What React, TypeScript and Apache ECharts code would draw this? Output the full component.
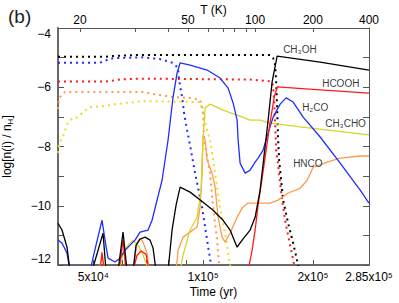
import React, { useEffect, useRef } from 'react';
import * as echarts from 'echarts';

const FONT = '"Liberation Sans", Arial, Helvetica, sans-serif';

// bottom axis (time, yr)
const timeTicks = [50000, 60000, 70000, 80000, 90000, 100000, 200000];
const timeLabelValues = [50000, 100000, 200000, 284990];
const timeLabelText = ['5x10⁴', '1x10⁵', '2x10⁵', '2.85x10⁵'];

// top axis (temperature) : times at which T reaches the tick temperatures
const tempTickTimes = [45960, 65000, 80100, 90900, 103100, 113400, 121500, 131100, 138800, 200000, 284990];
const tempLabelTimes = [45960, 90900, 138800, 200000, 284990];
const tempLabelText = ['20', '50', '100', '200', '400'];

// [time (yr), log n(i)/nH]
const ch3ohIce = [[40000,-4.97],[53830,-4.97],[57340,-4.94],[67150,-4.91],[152660,-4.91],[155580,-5.01],[157560,-5.25],[158560,-5.76],[159560,-6.67],[160575,-7.78],[161590,-8.46],[165729,-9.81],[171049,-10.59],[176537,-11.26],[182203,-12.0],[183000,-12.2]];
const ch3ohGas = [[40000,-10.59],[41024,-10.82],[42342,-11.4],[43150,-12.2],[49586,-12.2],[53155,-10.93],[54170,-12.2],[58437,-12.2],[60312,-10.89],[61855,-12.2],[64245,-12.2],[65475,-11.33],[67150,-11.13],[69310,-11.06],[71530,-11.16],[72898,-11.43],[74295,-12.2],[80143,-12.2],[82195,-10.82],[84300,-9.98],[86455,-9.37],[92090,-9.54],[99976,-9.88],[106496,-10.15],[113441,-10.49],[118570,-10.82],[123930,-11.4],[127910,-11.16],[134540,-10.82],[138860,-10.39],[143310,-9.47],[146980,-8.29],[150743,-7.11],[154600,-5.82],[159560,-4.95],[209370,-5.15],[285000,-5.42]];
const hcoohIce = [[40000,-5.81],[53830,-5.81],[59930,-5.73],[68436,-5.71],[134540,-5.74],[150743,-5.79],[154510,-5.82],[155580,-5.99],[156560,-6.43],[157560,-7.21],[158560,-8.12],[160575,-8.63],[162610,-9.24],[164680,-9.81],[168750,-10.66],[173220,-11.33],[177660,-12.0],[178500,-12.2]];
const hcoohGas = [[40000,-12.2],[52140,-12.2],[52820,-11.57],[53490,-12.2],[58807,-12.2],[60312,-11.16],[61470,-12.2],[64245,-12.2],[65890,-11.67],[67580,-11.53],[69745,-11.64],[71080,-12.2],[132851,-12.2],[136250,-11.5],[138860,-10.82],[141514,-9.98],[145140,-9.07],[148850,-8.12],[152660,-7.18],[156565,-6.36],[159560,-5.99],[209370,-6.09],[285000,-6.2]];
const h2coIce = [[40000,-5.17],[52140,-5.17],[54515,-5.08],[56620,-5.02],[68436,-4.99],[76190,-5.05],[82715,-5.18],[85370,-5.35],[85910,-5.76],[87555,-6.33],[88670,-6.87],[90365,-7.45],[91515,-7.78],[95050,-8.9],[99345,-10.05],[102535,-11.16],[105160,-12.0],[106000,-12.2]];
const h2coGas = [[40000,-11.16],[41024,-11.26],[42342,-11.6],[43150,-12.2],[48962,-12.2],[50853,-11.33],[52820,-10.49],[53830,-11.16],[54860,-11.77],[57340,-11.9],[59180,-11.77],[61080,-11.5],[63040,-11.33],[65060,-11.16],[67150,-10.89],[70632,-10.82],[72440,-10.49],[74765,-9.81],[77165,-9.14],[80143,-7.78],[82715,-6.33],[84830,-5.52],[86455,-5.18],[92090,-5.25],[102535,-5.42],[111310,-5.69],[117082,-6.03],[120839,-6.53],[123930,-7.11],[124717,-7.78],[126300,-8.56],[130360,-8.9],[134540,-8.8],[138860,-8.53],[141514,-8.39],[146056,-8.12],[150743,-7.55],[155580,-7.01],[162620,-6.57],[168910,-6.36],[176537,-6.5],[188050,-7.01],[209370,-7.68],[237570,-8.56],[269570,-9.47],[285000,-9.91]];
const ch3choIce = [[40000,-8.22],[40253,-7.95],[40765,-7.78],[41285,-7.68],[41810,-7.45],[42610,-7.18],[43977,-7.04],[45389,-7.01],[46550,-6.87],[48045,-6.74],[48962,-6.67],[52820,-6.64],[57340,-6.57],[65060,-6.5],[68436,-6.47],[98100,-6.5],[99345,-6.77],[101250,-7.11],[102535,-7.45],[104495,-7.78],[107850,-8.9],[111310,-10.05],[114880,-10.93],[118570,-12.0],[119500,-12.2]];
const ch3choGas = [[40000,-12.2],[51825,-12.2],[52820,-11.67],[53830,-12.2],[58807,-12.2],[60694,-11.5],[62248,-11.33],[64245,-11.16],[66307,-11.33],[68436,-11.67],[71080,-12.2],[86455,-12.2],[88110,-11.67],[92090,-10.82],[96260,-10.39],[98720,-9.47],[99345,-8.46],[99976,-7.78],[101250,-6.7],[104495,-6.57],[113441,-6.77],[123930,-6.94],[134540,-7.11],[143310,-7.11],[152660,-7.21],[184520,-7.34],[285000,-7.61]];
const hncoIce = [[40000,-6.74],[40253,-6.4],[41024,-6.23],[41810,-6.16],[68436,-6.16],[72898,-6.23],[82715,-6.33],[92090,-6.36],[98100,-6.43],[99976,-6.77],[100610,-7.78],[104495,-8.9],[106496,-10.05],[109223,-11.16],[110610,-12.0],[111200,-12.2]];
const hncoGas = [[40000,-12.2],[64245,-12.2],[65890,-11.26],[67150,-11.09],[68436,-11.23],[70187,-11.6],[71080,-12.2],[84300,-12.2],[85370,-11.5],[88110,-11.06],[92090,-10.89],[96260,-10.72],[98100,-10.05],[99345,-8.9],[99976,-7.61],[101250,-7.78],[102535,-8.46],[105825,-8.9],[107850,-9.37],[109914,-10.39],[112730,-11.06],[114880,-11.23],[118570,-10.93],[123930,-10.39],[127910,-10.08],[132851,-9.91],[141514,-9.91],[152660,-9.91],[160575,-9.81],[171049,-9.57],[184520,-9.41],[192865,-9.14],[200315,-8.7],[218840,-8.53],[237570,-8.39],[269570,-8.32],[285000,-8.32]];

// species labels
const labelNames = ['CH₃OH', 'HCOOH', 'H₂CO', 'CH₃CHO', 'HNCO'];
const labelTimes = [165729, 212040, 186870, 216090, 176537];
const labelValues = [-4.74, -5.89, -6.67, -7.21, -8.56];

const COLORS = {
  black: '#000000',
  red: '#ff1a1a',
  blue: '#1f2dff',
  yellow: '#d6d624',
  yellowDot: '#eedd22',
  orange: '#ff9a4c',
};

function nearestLabel(v: number, times: number[], texts: string[]) {
  const val = v < 100 ? Math.pow(10, v) : v;
  let best = -1;
  let bd = Infinity;
  times.forEach((t, i) => {
    const d = Math.abs(Math.log10(val) - Math.log10(t));
    if (d < bd) { bd = d; best = i; }
  });
  return bd < 0.01 ? texts[best] : '';
}

function lineSeries(data: number[][], color: string, dotted: boolean) {
  return {
    type: 'line',
    data,
    xAxisIndex: 0,
    yAxisIndex: 0,
    showSymbol: false,
    symbol: 'none',
    clip: true,
    silent: true,
    lineStyle: dotted
      ? { color, width: 2, type: [2, 4], cap: 'butt' }
      : { color, width: 1.3, type: 'solid' },
    z: dotted ? 2 : 3,
  };
}

export default function App() {
  const ref = useRef<HTMLDivElement>(null);
  useEffect(() => {
    if (!ref.current) return;
    const chart = echarts.init(ref.current, null, { renderer: 'svg' });
    const axisColor = '#555';
    const option: any = {
      animation: false,
      backgroundColor: '#ffffff',
      title: {
        text: '(b)',
        left: 3,
        top: 2,
        textStyle: { fontSize: 19, fontWeight: 'normal', color: '#222', fontFamily: FONT },
      },
      grid: { left: 58, right: 30, top: 28, bottom: 38, containLabel: false, outerBoundsMode: 'none' },
      xAxis: [
        {
          type: 'log',
          logBase: 10,
          min: 40000,
          max: 285000,
          position: 'bottom',
          axisLine: { show: true, onZero: false, lineStyle: { color: '#6a6a6a', width: 2 } },
          axisTick: { show: true, inside: true, length: 5, customValues: timeTicks, lineStyle: { color: axisColor } },
          axisLabel: {
            customValues: timeLabelValues,
            formatter: (v: number) => nearestLabel(v, timeLabelValues, timeLabelText),
            color: '#000',
            fontSize: 12,
            fontFamily: FONT,
            margin: 6,
          },
          splitLine: { show: false },
          minorTick: { show: false },
          name: 'Time (yr)',
          nameLocation: 'middle',
          nameGap: 21,
          nameMoveOverlap: false,
          nameTextStyle: { fontSize: 12, color: '#000', fontFamily: FONT },
        },
        {
          type: 'log',
          logBase: 10,
          min: 40000,
          max: 285000,
          position: 'top',
          axisLine: { show: true, onZero: false, lineStyle: { color: axisColor, width: 1 } },
          axisTick: { show: true, inside: true, length: 4, customValues: tempTickTimes, lineStyle: { color: axisColor } },
          axisLabel: {
            customValues: tempLabelTimes,
            formatter: (v: number) => nearestLabel(v, tempLabelTimes, tempLabelText),
            color: '#000',
            fontSize: 12,
            fontFamily: FONT,
            margin: 2,
          },
          splitLine: { show: false },
          name: 'T (K)',
          nameLocation: 'middle',
          nameGap: 12,
          nameMoveOverlap: false,
          nameTextStyle: { fontSize: 12, color: '#000', fontFamily: FONT },
        },
      ],
      yAxis: [
        {
          type: 'value',
          min: -12,
          max: -4,
          interval: 1,
          position: 'left',
          axisLine: { show: true, onZero: false, lineStyle: { color: '#6a6a6a', width: 2 } },
          axisTick: { show: true, inside: true, length: 6, lineStyle: { color: axisColor } },
          axisLabel: {
            formatter: (v: number) => (Math.round(v) % 2 === 0 ? '\u2212' + Math.abs(v) : ''),
            color: '#000',
            fontSize: 12,
            fontFamily: FONT,
            margin: 7,
            verticalAlignMinLabel: 'bottom',
            verticalAlignMaxLabel: 'top',
          },
          splitLine: { show: false },
          name: 'log[n(i) / n{s|H}]',
          nameLocation: 'middle',
          nameGap: 44,
          nameRotate: 90,
          nameMoveOverlap: false,
          nameTextStyle: {
            fontSize: 12,
            color: '#000',
            fontFamily: FONT,
            rich: { s: { fontSize: 8, verticalAlign: 'bottom', padding: [6, 0, 0, 0], fontFamily: FONT, color: '#000' } },
          },
        },
        {
          type: 'value',
          min: -12,
          max: -4,
          interval: 1,
          position: 'right',
          axisLine: { show: true, onZero: false, lineStyle: { color: axisColor, width: 1 } },
          axisTick: { show: true, inside: true, length: 6, lineStyle: { color: axisColor } },
          axisLabel: { show: false },
          splitLine: { show: false },
        },
      ],
      series: [
        lineSeries(ch3ohIce, COLORS.black, true),
        lineSeries(hcoohIce, COLORS.red, true),
        lineSeries(h2coIce, COLORS.blue, true),
        lineSeries(ch3choIce, COLORS.yellowDot, true),
        lineSeries(hncoIce, COLORS.orange, true),
        lineSeries(hncoGas, COLORS.orange, false),
        lineSeries(ch3choGas, COLORS.yellow, false),
        lineSeries(h2coGas, COLORS.blue, false),
        lineSeries(hcoohGas, COLORS.red, false),
        lineSeries(ch3ohGas, COLORS.black, false),
        {
          type: 'scatter',
          xAxisIndex: 0,
          yAxisIndex: 0,
          symbolSize: 0,
          silent: true,
          data: labelNames.map((n, i) => [labelTimes[i], labelValues[i], n]),
          label: {
            show: true,
            position: 'right',
            distance: 0,
            formatter: (p: any) => p.data[2],
            color: '#000',
            fontSize: 10,
            fontFamily: FONT,
          },
          z: 5,
        },
      ],
    };
    chart.setOption(option);
    return () => chart.dispose();
  }, []);
  return (
    <div
      ref={ref}
      style={{ position: 'fixed', left: 0, top: 0, width: 399, height: 303, background: '#fff' }}
    />
  );
}
